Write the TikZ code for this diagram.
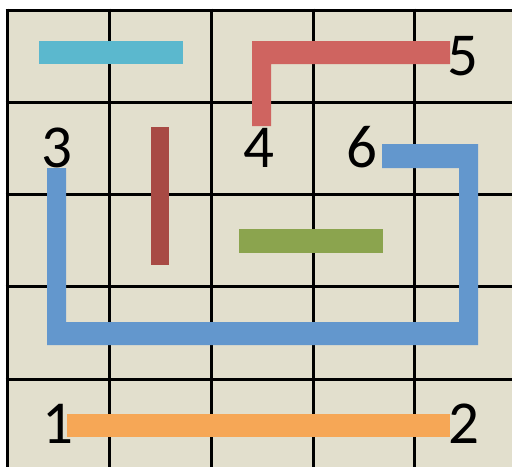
\documentclass[tikz,border=0pt]{standalone}
\usepackage{fontspec}
\setmainfont{Carlito}
\definecolor{bgbeige}{RGB}{226,223,205}
\definecolor{barcyan}{RGB}{91,184,206}
\definecolor{barred}{RGB}{207,100,96}
\definecolor{bardark}{RGB}{168,74,68}
\definecolor{bargreen}{RGB}{139,164,78}
\definecolor{barblue}{RGB}{99,151,205}
\definecolor{barorange}{RGB}{246,167,86}
\tikzset{
  gridline/.style={line width=3pt, black},
  num/.style={anchor=base, inner sep=0pt, font=\fontsize{61}{61}\selectfont},
  bar/.style={draw=none}
}
\begin{document}
\begin{tikzpicture}[x=1pt,y=-1pt]
\useasboundingbox (0,0) rectangle (512,467);
\fill[bgbeige] (7,10) rectangle (512,467);
% grid
\foreach \x in {7,109,211,313,414} \draw[gridline] (\x,8.5) -- (\x,467);
\foreach \y in {10,102,194,286,379} \draw[gridline] (5.5,\y) -- (512,\y);
% bars
\fill[barcyan] (39,41) rectangle (183,64);
\fill[barred] (252,41) -- (450,41) -- (450,64) -- (271,64) -- (271,126) -- (252,126) -- cycle;
\fill[bardark] (151,127) rectangle (169,265);
\fill[bargreen] (239,229) rectangle (383,253);
\fill[barblue] (47,168) -- (66,168) -- (66,322) -- (459,322) -- (459,168) -- (382,168) -- (382,144) -- (478,144) -- (478,345) -- (47,345) -- cycle;
\fill[barorange] (67,414) rectangle (450,437);
% labels
\node[num] (n1) at (58,443) {1};
\node[num] (n2) at (464,443) {2};
\node[num] (n3) at (57,167) {3};
\node[num] (n4) at (259,167) {4};
\node[num] (n5) at (463,75) {5};
\node[num] (n6) at (362,167) {6};
\end{tikzpicture}
\end{document}
